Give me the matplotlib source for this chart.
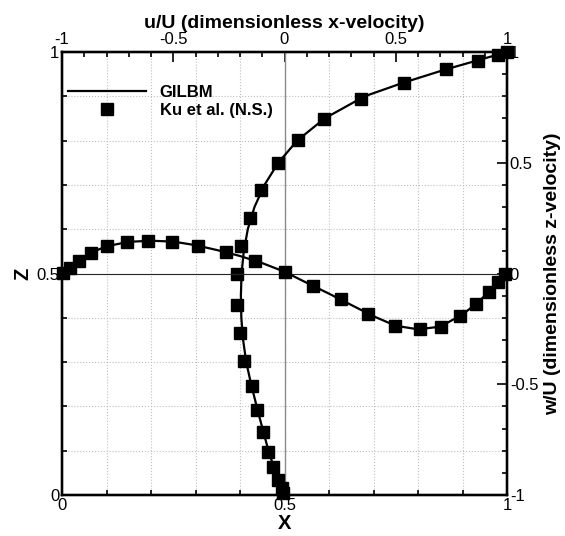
import numpy as np
import matplotlib
matplotlib.use("Agg")
import matplotlib.pyplot as plt
from matplotlib.ticker import MultipleLocator, FuncFormatter

plt.rcParams['font.family'] = ['Liberation Sans', 'DejaVu Sans']

# u-velocity along the vertical centreline (u on top axis, Z on left axis)
z_ku = [0.004, 0.015, 0.034, 0.064, 0.098, 0.142, 0.192, 0.247, 0.303, 0.366, 0.430,
        0.499, 0.562, 0.626, 0.688, 0.750, 0.801, 0.849, 0.895, 0.931, 0.961, 0.980,
        0.993, 1.0]
u_ku = [-0.005, -0.013, -0.031, -0.050, -0.073, -0.095, -0.122, -0.147, -0.181, -0.200,
        -0.215, -0.212, -0.197, -0.155, -0.106, -0.028, 0.059, 0.179, 0.344, 0.538,
        0.724, 0.868, 0.961, 1.0]

z_gilbm = [0.0, 0.02, 0.05, 0.1, 0.15, 0.2, 0.25, 0.3, 0.35, 0.4, 0.45, 0.5, 0.55,
           0.6, 0.65, 0.7, 0.75, 0.8, 0.85, 0.9, 0.93, 0.96, 0.98, 1.0]
u_gilbm = [0.0, -0.018, -0.040, -0.072, -0.099, -0.125, -0.150, -0.172, -0.186, -0.194,
           -0.196, -0.193, -0.183, -0.165, -0.135, -0.090, -0.028, 0.057, 0.180, 0.360,
           0.530, 0.720, 0.860, 1.0]

# w-velocity along the horizontal centreline (X on bottom axis, w on right axis)
x_ku = [0.003, 0.018, 0.038, 0.065, 0.102, 0.145, 0.194, 0.247, 0.306, 0.369, 0.434,
        0.500, 0.563, 0.626, 0.688, 0.748, 0.804, 0.851, 0.894, 0.930, 0.960, 0.980,
        0.995]
w_ku = [0.004, 0.023, 0.058, 0.094, 0.124, 0.144, 0.148, 0.144, 0.124, 0.096, 0.058,
        0.008, -0.055, -0.117, -0.183, -0.236, -0.252, -0.240, -0.192, -0.138, -0.082,
        -0.037, -0.004]

x_gilbm = [0.0, 0.02, 0.04, 0.07, 0.1, 0.15, 0.2, 0.25, 0.3, 0.35, 0.4, 0.45, 0.5,
           0.55, 0.6, 0.65, 0.7, 0.75, 0.8, 0.85, 0.9, 0.93, 0.96, 0.98, 1.0]
w_gilbm = [0.0, 0.025, 0.058, 0.098, 0.123, 0.143, 0.148, 0.144, 0.128, 0.105, 0.079,
           0.047, 0.008, -0.042, -0.091, -0.142, -0.193, -0.236, -0.252, -0.240, -0.185,
           -0.138, -0.082, -0.037, 0.0]

fig = plt.figure(figsize=(5.65, 5.36), dpi=100)
ax = fig.add_axes([62 / 565, 41 / 536, 445 / 565, 443 / 536])
ax2 = ax.twiny()
ax3 = ax.twinx()

fmt = FuncFormatter(lambda v, p: '%g' % round(v, 2))

ax.set_xlim(0, 1)
ax.set_ylim(0, 1)
ax2.set_xlim(-1, 1)
ax3.set_ylim(-1, 1)

for a in (ax, ax2, ax3):
    for s in a.spines.values():
        s.set_linewidth(1.6)
    a.tick_params(which='both', direction='in', labelsize=12, width=1.2, pad=2)
    a.tick_params(which='major', length=7)
    a.tick_params(which='minor', length=3.5)
ax2.tick_params(which='both', pad=3.5)

ax.xaxis.set_major_locator(MultipleLocator(0.5))
ax.xaxis.set_minor_locator(MultipleLocator(0.1))
ax.yaxis.set_major_locator(MultipleLocator(0.5))
ax.yaxis.set_minor_locator(MultipleLocator(0.1))
ax2.xaxis.set_major_locator(MultipleLocator(0.5))
ax2.xaxis.set_minor_locator(MultipleLocator(0.1))
ax3.yaxis.set_major_locator(MultipleLocator(0.5))
ax3.yaxis.set_minor_locator(MultipleLocator(0.1))
ax.xaxis.set_major_formatter(fmt)
ax.yaxis.set_major_formatter(fmt)
ax2.xaxis.set_major_formatter(fmt)
ax3.yaxis.set_major_formatter(fmt)

ax.grid(which='both', linestyle=':', color='0.75', linewidth=0.8)

ax2.axvline(0, color='0.55', linewidth=1.0)
ax3.axhline(0, color='0.15', linewidth=0.8)

ax2.plot(u_gilbm, z_gilbm, color='black', linewidth=1.6, label='GILBM')
ax2.plot(u_ku, z_ku, 's', color='black', markersize=8, clip_on=False, zorder=5,
         label='Ku et al. (N.S.)')
ax3.plot(x_gilbm, w_gilbm, color='black', linewidth=1.6)
ax3.plot(x_ku, w_ku, 's', color='black', markersize=8, clip_on=False, zorder=5)

ax.set_xlabel('X', fontsize=14.5, fontweight='bold', labelpad=1)
ax.set_ylabel('Z', fontsize=14.5, fontweight='bold', labelpad=3)
ax2.set_xlabel('u/U (dimensionless x-velocity)', fontsize=14, fontweight='bold', labelpad=3)
ax3.set_ylabel('w/U (dimensionless z-velocity)', fontsize=14, fontweight='bold', labelpad=4)

h, l = ax2.get_legend_handles_labels()
leg = ax3.legend(h, l, loc='upper left', bbox_to_anchor=(-0.02, 0.96), frameon=False,
                 handlelength=4.7, handletextpad=0.8, labelspacing=0.2,
                 prop={'weight': 'bold', 'size': 12})

fig.savefig('out.png', dpi=100)
